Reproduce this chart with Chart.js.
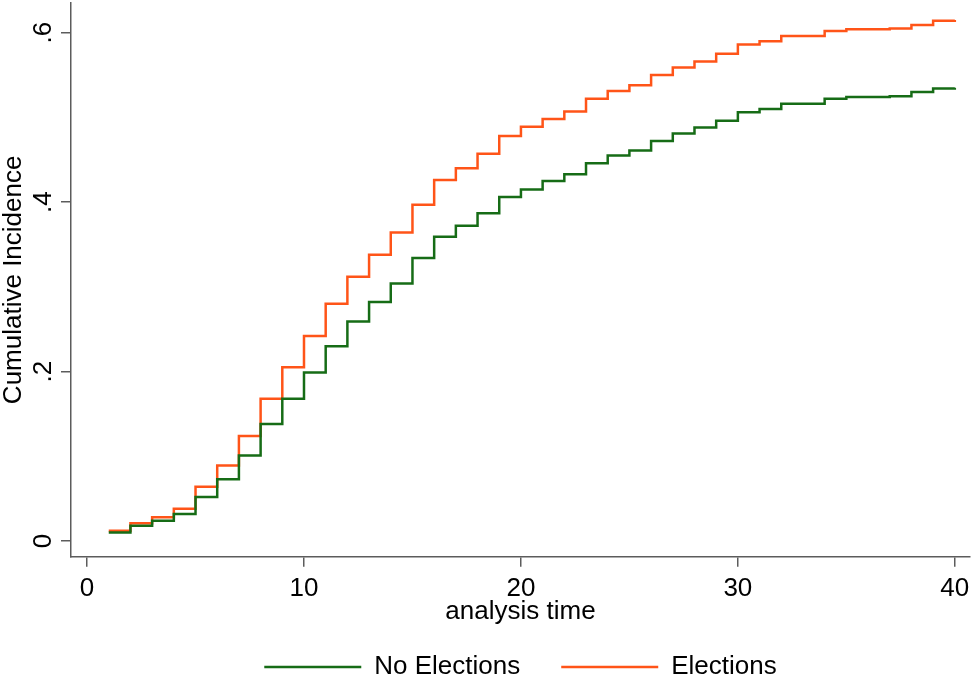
<!DOCTYPE html>
<html>
<head>
<meta charset="utf-8">
<title>Cumulative Incidence</title>
<script src="https://cdn.jsdelivr.net/npm/chart.js@4.4.1/dist/chart.umd.min.js"></script>
<style>
  html, body { margin: 0; padding: 0; background: #fff; }
  canvas { display: block; }
</style>
</head>
<body>
<canvas id="cif" width="974" height="687"></canvas>
<script>
// analysis time (start of each step)
var times = [1, 2, 3, 4, 5, 6, 7, 8, 9, 10, 11, 12, 13, 14, 15, 16, 17, 18, 19, 20,
             21, 22, 23, 24, 25, 26, 27, 28, 29, 30, 31, 32, 33, 34, 35, 36, 37, 38, 39, 40];

var noElections = [0.010, 0.018, 0.024, 0.032, 0.052, 0.073, 0.101, 0.138, 0.168, 0.199,
                   0.230, 0.259, 0.282, 0.304, 0.334, 0.359, 0.372, 0.387, 0.406, 0.415,
                   0.425, 0.433, 0.446, 0.455, 0.461, 0.472, 0.481, 0.488, 0.496, 0.506,
                   0.510, 0.516, 0.516, 0.522, 0.524, 0.524, 0.525, 0.530, 0.534, 0.535];

var elections = [0.012, 0.021, 0.028, 0.038, 0.064, 0.089, 0.124, 0.168, 0.205, 0.242,
                 0.280, 0.312, 0.338, 0.364, 0.397, 0.426, 0.440, 0.457, 0.478, 0.489,
                 0.498, 0.507, 0.522, 0.531, 0.538, 0.550, 0.559, 0.566, 0.575, 0.586,
                 0.590, 0.596, 0.596, 0.602, 0.604, 0.604, 0.605, 0.609, 0.614, 0.615];

var xTicks = [0, 10, 20, 30, 40];
var yTicks = [0, 0.2, 0.4, 0.6];
var yTickLabels = ['0', '.2', '.4', '.6'];

var GREEN = 'rgb(22,108,22)';
var ORANGE = 'rgb(255,84,24)';
var AXIS = '#5c5c5c';
var FONT = "'Liberation Sans', Arial, sans-serif";

function toPoints(vals) {
  return times.map(function(t, i) { return {x: t, y: vals[i]}; });
}

// y tick labels are rotated like Stata does, so draw them ourselves
var rotatedYLabels = {
  id: 'rotatedYLabels',
  afterDraw: function(chart) {
    var ys = chart.scales.y;
    var ctx = chart.ctx;
    ctx.save();
    ctx.fillStyle = '#000';
    ctx.font = '26px ' + FONT;
    ctx.textAlign = 'center';
    ctx.textBaseline = 'alphabetic';
    yTicks.forEach(function(v, i) {
      var py = ys.getPixelForValue(v);
      ctx.save();
      ctx.translate(ys.right - 20, py);
      ctx.rotate(-Math.PI / 2);
      ctx.fillText(yTickLabels[i], 0, 0);
      ctx.restore();
    });
    ctx.restore();
  }
};

var ctx = document.getElementById('cif').getContext('2d');
var chart = new Chart(ctx, {
  type: 'line',
  data: {
    datasets: [{
      label: 'No Elections',
      data: toPoints(noElections),
      borderColor: GREEN,
      backgroundColor: GREEN,
      borderWidth: 2.5,
      stepped: true,
      pointRadius: 0,
      fill: false
    }, {
      label: 'Elections',
      data: toPoints(elections),
      borderColor: ORANGE,
      backgroundColor: ORANGE,
      borderWidth: 2.5,
      stepped: true,
      pointRadius: 0,
      fill: false
    }]
  },
  options: {
    responsive: false,
    animation: false,
    devicePixelRatio: 1,
    layout: { padding: { top: 3, right: 4, left: 0, bottom: -2.9 } },
    plugins: {
      tooltip: { enabled: false },
      legend: {
        position: 'bottom',
        fullSize: false,
        labels: {
          boxWidth: 97,
          boxHeight: 0,
          padding: 41,
          color: '#000',
          font: { family: FONT, size: 26 }
        }
      }
    },
    scales: {
      x: {
        type: 'linear',
        min: -0.74,
        max: 40.7,
        afterBuildTicks: function(scale) {
          scale.ticks = xTicks.map(function(v) { return {value: v}; });
        },
        grid: { drawOnChartArea: false, drawTicks: true, tickLength: 10, color: AXIS, lineWidth: 1.5 },
        border: { display: true, color: AXIS, width: 1.5 },
        ticks: {
          autoSkip: false,
          maxRotation: 0,
          padding: 0,
          color: '#000',
          // tall line box pushes the labels down without adding side padding
          font: { family: FONT, size: 26, lineHeight: 1.677 },
          callback: function(v) { return String(v); }
        },
        title: {
          display: true,
          text: 'analysis time',
          color: '#000',
          font: { family: FONT, size: 26, lineHeight: 0.1 },
          padding: { top: 0, bottom: 0 }
        }
      },
      y: {
        type: 'linear',
        min: -0.0185,
        max: 0.635,
        afterBuildTicks: function(scale) {
          scale.ticks = yTicks.map(function(v) { return {value: v}; });
        },
        grid: { drawOnChartArea: false, drawTicks: true, tickLength: 10, color: AXIS, lineWidth: 1.5 },
        border: { display: true, color: AXIS, width: 1.5 },
        ticks: { display: false },
        title: {
          display: true,
          text: 'Cumulative Incidence',
          color: '#000',
          font: { family: FONT, size: 26, lineHeight: 1.1 },
          padding: { top: 0, bottom: 32.4 }
        }
      }
    }
  },
  plugins: [rotatedYLabels]
});
</script>
</body>
</html>
